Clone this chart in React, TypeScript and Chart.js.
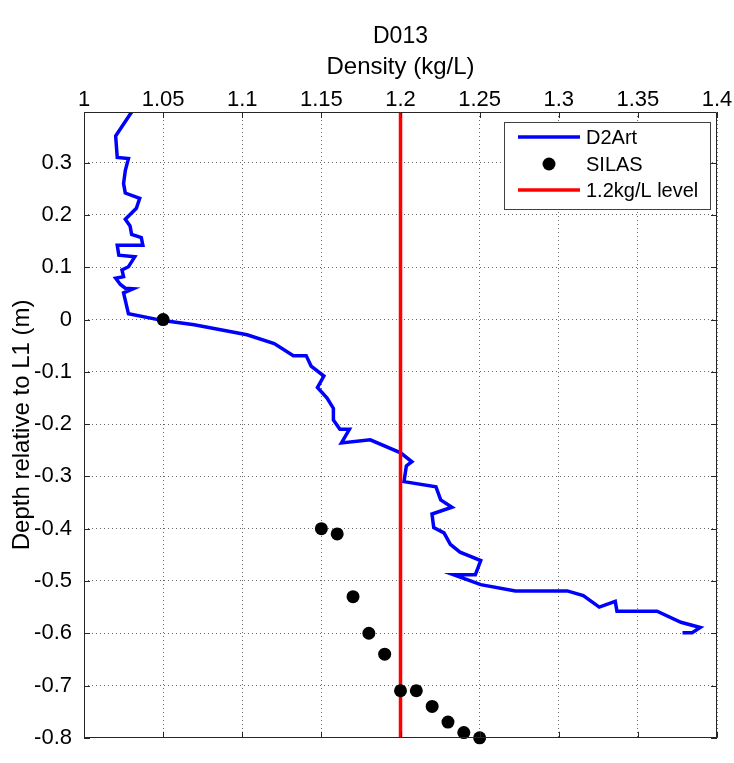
import React, { useEffect, useRef } from 'react';
import { Chart, registerables } from 'chart.js';

Chart.register(...registerables);

const FONT = '"Liberation Sans", Arial, Helvetica, sans-serif';

const chartTitle = 'D013';
const xAxisTitle = 'Density (kg/L)';
const yAxisTitle = 'Depth relative to L1 (m)';

const xTicks = [1, 1.05, 1.1, 1.15, 1.2, 1.25, 1.3, 1.35, 1.4];
const yTicks = [-0.8, -0.7, -0.6, -0.5, -0.4, -0.3, -0.2, -0.1, 0, 0.1, 0.2, 0.3];
const xMin = 1;
const xMax = 1.4;
const yMin = -0.8;
const yMax = 0.397;

// D2Art profile (density vs depth)
const d2artDensity = [
  1.0301, 1.0200, 1.0210, 1.0281, 1.0261, 1.0250, 1.0261, 1.0352, 1.0331, 1.0261,
  1.0291, 1.0301, 1.0362, 1.0372, 1.0210, 1.0220, 1.0321, 1.0281, 1.0240, 1.0250,
  1.0200, 1.0230, 1.0261, 1.0311, 1.0250, 1.0281, 1.0500, 1.0696, 1.1030, 1.1202,
  1.1323, 1.1404, 1.1435, 1.1516, 1.1475, 1.1536, 1.1576, 1.1576, 1.1617, 1.1677,
  1.1627, 1.1809, 1.2001, 1.2072, 1.2037, 1.2022, 1.2224, 1.2254, 1.2325, 1.2199,
  1.2210, 1.2275, 1.2315, 1.2376, 1.2507, 1.2473, 1.2335, 1.2507, 1.2726, 1.3054,
  1.3155, 1.3256, 1.3357, 1.3368, 1.3621, 1.3772, 1.3894, 1.3843, 1.3782,
];
const d2artDepth = [
  0.397, 0.351, 0.310, 0.308, 0.285, 0.260, 0.242, 0.232, 0.213, 0.192,
  0.179, 0.163, 0.157, 0.142, 0.142, 0.123, 0.120, 0.101, 0.095, 0.082,
  0.079, 0.067, 0.060, 0.059, 0.051, 0.011, -0.002, -0.010, -0.029, -0.046,
  -0.069, -0.069, -0.089, -0.108, -0.130, -0.150, -0.170, -0.192, -0.210, -0.210,
  -0.236, -0.230, -0.255, -0.272, -0.280, -0.310, -0.320, -0.345, -0.359, -0.372,
  -0.398, -0.408, -0.430, -0.445, -0.461, -0.488, -0.488, -0.507, -0.519, -0.519,
  -0.528, -0.550, -0.539, -0.558, -0.558, -0.579, -0.589, -0.599, -0.599,
];

// SILAS samples
const silasDensity = [1.05, 1.15, 1.16, 1.17, 1.18, 1.19, 1.2, 1.21, 1.22, 1.23, 1.24, 1.25];
const silasDepth = [0, -0.4, -0.41, -0.53, -0.6, -0.64, -0.71, -0.71, -0.74, -0.77, -0.79, -0.8];

// 1.2 kg/L reference level
const levelDensity = [1.2, 1.2];
const levelDepth = [yMin, yMax];

const seriesLabels = ['D2Art', 'SILAS', '1.2kg/L level'];
const seriesColors = ['#0000ff', '#000000', '#ff0000'];

const toPoints = (xs: number[], ys: number[]) => xs.map((x, i) => ({ x, y: ys[i] }));
const fmt = (v: number) => String(Math.round(v * 1000) / 1000);

const titlePlugin = {
  id: 'centeredTitle',
  afterDraw(chart: any) {
    const { ctx, chartArea } = chart;
    ctx.save();
    ctx.font = `23px ${FONT}`;
    ctx.fillStyle = '#000000';
    ctx.textAlign = 'center';
    ctx.textBaseline = 'middle';
    ctx.fillText(chartTitle, (chartArea.left + chartArea.right) / 2, chartArea.top - 75);
    ctx.restore();
  },
};

const framePlugin = {
  id: 'matlabFrame',
  afterDatasetsDraw(chart: any) {
    const { ctx, chartArea } = chart;
    const { left, right, top, bottom } = chartArea;
    const xs = chart.scales.x;
    const ys = chart.scales.y;
    ctx.save();
    ctx.strokeStyle = '#262626';
    ctx.lineWidth = 1;
    ctx.beginPath();
    ctx.rect(Math.round(left) + 0.5, Math.round(top) + 0.5, Math.round(right - left) - 1, Math.round(bottom - top) - 1);
    ctx.stroke();
    const tl = 6;
    ctx.beginPath();
    xTicks.forEach((v) => {
      const px = Math.round(xs.getPixelForValue(v)) + 0.5;
      ctx.moveTo(px, top); ctx.lineTo(px, top + tl);
      ctx.moveTo(px, bottom); ctx.lineTo(px, bottom - tl);
    });
    yTicks.forEach((v) => {
      const py = Math.round(ys.getPixelForValue(v)) + 0.5;
      ctx.moveTo(left, py); ctx.lineTo(left + tl, py);
      ctx.moveTo(right, py); ctx.lineTo(right - tl, py);
    });
    ctx.stroke();
    ctx.restore();
  },
};

const legendPlugin = {
  id: 'matlabLegend',
  afterDraw(chart: any) {
    const { ctx, chartArea } = chart;
    const R = chartArea.right - 7;
    const T = chartArea.top + 10;
    const W = 206;
    const H = 87;
    const L = R - W;
    ctx.save();
    ctx.fillStyle = '#ffffff';
    ctx.fillRect(L, T, W, H);
    ctx.strokeStyle = '#404040';
    ctx.lineWidth = 1;
    ctx.strokeRect(Math.round(L) + 0.5, Math.round(T) + 0.5, W, H);
    ctx.font = `20px ${FONT}`;
    ctx.textBaseline = 'middle';
    ctx.textAlign = 'left';
    const rowY = [T + 15, T + 42, T + 68];
    seriesLabels.forEach((label, i) => {
      const y = rowY[i];
      if (i === 1) {
        ctx.fillStyle = seriesColors[i];
        ctx.beginPath();
        ctx.arc(L + 45, y, 6.5, 0, Math.PI * 2);
        ctx.fill();
      } else {
        ctx.strokeStyle = seriesColors[i];
        ctx.lineWidth = 3.5;
        ctx.beginPath();
        ctx.moveTo(L + 14, y);
        ctx.lineTo(L + 76, y);
        ctx.stroke();
      }
      ctx.fillStyle = '#000000';
      ctx.fillText(label, L + 82, y + 1);
    });
    ctx.restore();
  },
};

export default function App() {
  const ref = useRef<HTMLCanvasElement | null>(null);

  useEffect(() => {
    if (!ref.current) return;
    Chart.defaults.font.family = FONT;
    Chart.defaults.color = '#000000';
    const chart = new Chart(ref.current, {
      type: 'scatter',
      data: {
        datasets: [
          {
            label: seriesLabels[0],
            data: toPoints(d2artDensity, d2artDepth),
            showLine: true,
            borderColor: seriesColors[0],
            backgroundColor: seriesColors[0],
            borderWidth: 3.5,
            pointRadius: 0,
            tension: 0,
            order: 2,
          },
          {
            label: seriesLabels[1],
            data: toPoints(silasDensity, silasDepth),
            showLine: false,
            borderColor: seriesColors[1],
            backgroundColor: seriesColors[1],
            pointRadius: 6.5,
            pointBorderWidth: 0,
            clip: false as any,
            order: 0,
          },
          {
            label: seriesLabels[2],
            data: toPoints(levelDensity, levelDepth),
            showLine: true,
            borderColor: seriesColors[2],
            backgroundColor: seriesColors[2],
            borderWidth: 3.5,
            pointRadius: 0,
            order: 1,
          },
        ],
      },
      options: {
        animation: false,
        responsive: false,
        devicePixelRatio: 1,
        layout: { padding: { left: 0, right: 17, top: 0, bottom: 11 } },
        plugins: {
          legend: { display: false },
          tooltip: { enabled: false },
          title: { display: false },
        },
        scales: {
          x: {
            type: 'linear',
            position: 'top',
            min: xMin,
            max: xMax,
            afterBuildTicks: (scale: any) => {
              scale.ticks = xTicks.map((value) => ({ value }));
            },
            afterFit: (scale: any) => {
              scale.height = 112;
            },
            ticks: {
              callback: (v: any) => fmt(Number(v)),
              font: { size: 22, family: FONT },
              color: '#000000',
              padding: -1,
              maxRotation: 0,
              autoSkip: false,
            },
            grid: {
              color: 'rgba(0,0,0,0.6)',
              lineWidth: 1,
              drawTicks: false,
            },
            border: { display: false, dash: [1, 3] },
            title: {
              display: true,
              text: xAxisTitle,
              color: '#000000',
              font: { size: 24, family: FONT, lineHeight: 1.2 },
              padding: { top: 53, bottom: 0 },
            },
          },
          y: {
            type: 'linear',
            position: 'left',
            min: yMin,
            max: yMax,
            afterBuildTicks: (scale: any) => {
              scale.ticks = yTicks.map((value) => ({ value }));
            },
            afterFit: (scale: any) => {
              scale.width = 84;
            },
            ticks: {
              callback: (v: any) => fmt(Number(v)),
              font: { size: 22, family: FONT },
              color: '#000000',
              padding: 12,
              autoSkip: false,
            },
            grid: {
              color: 'rgba(0,0,0,0.6)',
              lineWidth: 1,
              drawTicks: false,
            },
            border: { display: false, dash: [1, 3] },
            title: {
              display: true,
              text: yAxisTitle,
              color: '#000000',
              font: { size: 24, family: FONT, lineHeight: 1.2 },
              padding: { top: 8, bottom: 0 },
            },
          },
        },
      },
      plugins: [framePlugin, legendPlugin, titlePlugin],
    });
    return () => chart.destroy();
  }, []);

  return (
    <div style={{ position: 'absolute', left: 0, top: 0, width: 734, height: 763, background: '#ffffff' }}>
      <canvas ref={ref} width={734} height={763} style={{ display: 'block', width: 734, height: 763 }} />
    </div>
  );
}
